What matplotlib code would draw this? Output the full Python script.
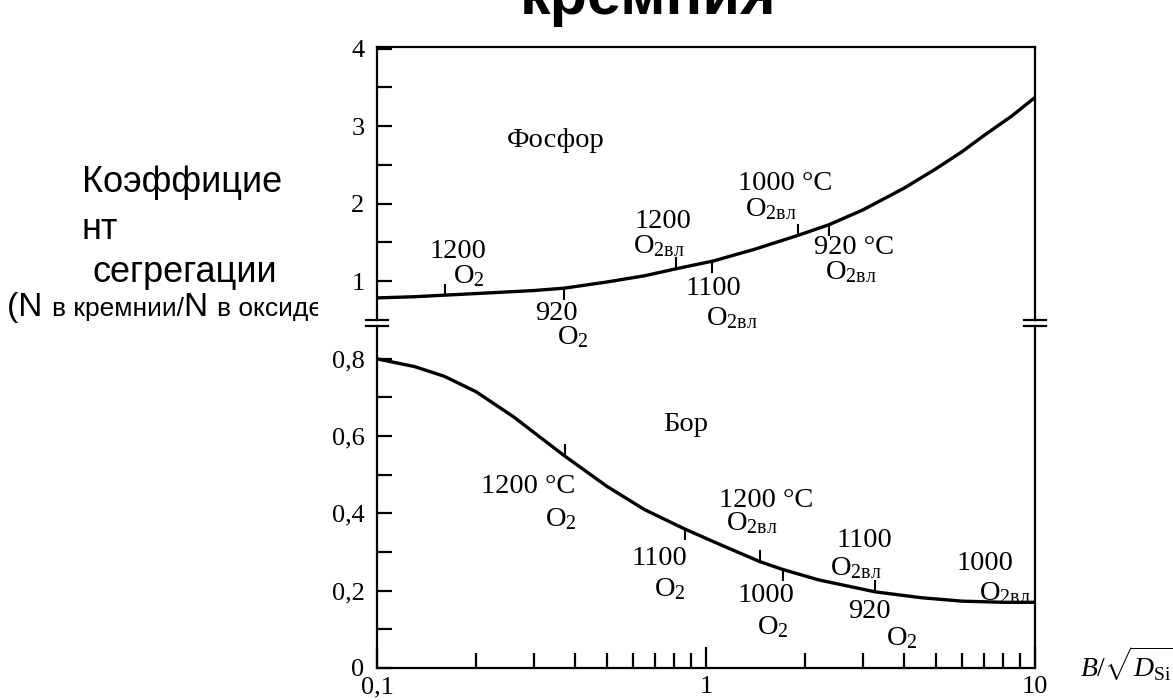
import numpy as np
import matplotlib
matplotlib.use('Agg')
import matplotlib.pyplot as plt
from matplotlib.ticker import LogLocator, NullFormatter, FixedLocator
from matplotlib.lines import Line2D
from matplotlib.transforms import Bbox

plt.rcParams['font.family'] = ['Liberation Serif', 'DejaVu Serif']
plt.rcParams['mathtext.fontset'] = 'custom'
plt.rcParams['mathtext.rm'] = 'Liberation Serif'
plt.rcParams['mathtext.it'] = 'Liberation Serif:italic'
plt.rcParams['mathtext.bf'] = 'Liberation Serif:bold'

# phosphorus curve (upper panel)
p_x = [0.1, 0.13, 0.16, 0.22, 0.3, 0.37, 0.5, 0.65, 0.81, 1.05, 1.4, 1.9, 2.37, 3.0, 4.0, 5.0, 6.0, 7.0, 8.5, 10]
p_y = [0.785, 0.80, 0.82, 0.85, 0.88, 0.91, 0.99, 1.07, 1.16, 1.26, 1.41, 1.59, 1.73, 1.92, 2.2, 2.45, 2.67, 2.88, 3.13, 3.37]
# boron curve (lower panel)
b_x = [0.1, 0.13, 0.16, 0.2, 0.26, 0.37, 0.5, 0.65, 0.86, 1.1, 1.46, 1.71, 2.2, 3.27, 4.5, 6.0, 8.0, 10]
b_y = [0.80, 0.78, 0.755, 0.715, 0.65, 0.55, 0.47, 0.41, 0.36, 0.32, 0.275, 0.255, 0.228, 0.197, 0.182, 0.173, 0.17, 0.17]

# small marks on the curves
pt_x = [0.161, 0.369, 0.809, 1.046, 1.9, 2.37]
pt_y = [0.82, 0.906, 1.163, 1.25, 1.59, 1.72]
pt_dir = [1, -1, 1, -1, 1, -1]
bt_x = [0.373, 0.863, 1.46, 1.71, 3.27]
bt_y = [0.55, 0.36, 0.275, 0.255, 0.197]
bt_dir = [1, -1, 1, -1, 1]

O2 = r'O$_2$'
O2vl = r'O$_{2\mathrm{вл}}$'

p_lab = ['Фосфор', '1200', O2, '920', O2, '1200', O2vl, '1100', O2vl, '1000 °C', O2vl, '920 °C', O2vl]
p_lab_x = [0.35, 0.176, 0.19, 0.352, 0.395, 0.738, 0.72, 1.05, 1.2, 1.74, 1.57, 2.82, 2.75]
p_lab_y = [2.82, 1.38, 1.07, 0.58, 0.28, 1.77, 1.45, 0.90, 0.52, 2.26, 1.93, 1.44, 1.12]

b_lab = ['Бор', '1200 °C', O2, '1100', O2, '1200 °C', O2vl, '1000', O2, '1100', O2vl, '920', O2, '1000', O2vl]
b_lab_x = [0.87, 0.288, 0.363, 0.724, 0.777, 1.52, 1.38, 1.52, 1.6, 3.04, 2.85, 3.13, 3.94, 7.05, 8.1]
b_lab_y = [0.63, 0.47, 0.386, 0.284, 0.203, 0.434, 0.374, 0.188, 0.107, 0.33, 0.258, 0.146, 0.076, 0.271, 0.193]

up_ticks = [1, 2, 3, 4]
up_ticklabels = ['1', '2', '3', '4']
lo_ticks = [0, 0.2, 0.4, 0.6, 0.8]
lo_ticklabels = ['0', '0,2', '0,4', '0,6', '0,8']
x_ticks = [0.1, 1, 10]
x_ticklabels = ['0,1', '1', '10']

W, H = 1173, 700
fig = plt.figure(figsize=(W / 100, H / 100), dpi=100)
left, right = 377 / W, 1035 / W
ax2 = fig.add_axes([left, 1 - 668 / H, right - left, (668 - 326) / H])
ax1 = fig.add_axes([left, 1 - 320 / H, right - left, (320 - 47) / H], sharex=ax2)
ax1.set_zorder(ax2.get_zorder() + 1)

lw_sp = 1.6
for ax in (ax1, ax2):
    ax.set_xscale('log')
    ax.set_xlim(0.1, 10)
    for s in ax.spines.values():
        s.set_linewidth(lw_sp)
    ax.tick_params(which='both', direction='in', labelsize=19, width=1.6, pad=9, length=11)

ax1.spines['bottom'].set_visible(False)
ax2.spines['top'].set_visible(False)

ax1.set_ylim(0.5, 4.02)
ax1.set_yticks(up_ticks, up_ticklabels)
ax1.yaxis.set_minor_locator(FixedLocator([1.5, 2.5, 3.5]))
ax1.tick_params(axis='x', which='both', bottom=False, top=False, labelbottom=False)
ax1.tick_params(axis='y', which='both', right=False)

ax2.set_ylim(0, 0.885)
ax2.set_yticks(lo_ticks, lo_ticklabels)
ax2.yaxis.set_minor_locator(FixedLocator([0.1, 0.3, 0.5, 0.7]))
ax2.tick_params(axis='y', which='both', right=False)
ax2.set_xticks(x_ticks, x_ticklabels)
ax2.xaxis.set_minor_locator(LogLocator(base=10, subs=np.arange(2, 10)))
ax2.xaxis.set_minor_formatter(NullFormatter())
ax2.tick_params(axis='x', which='major', length=15, pad=6)
ax2.tick_params(axis='x', which='minor', length=11)

ax1.plot(p_x, p_y, color='black', lw=2.4, solid_capstyle='butt')
ax2.plot(b_x, b_y, color='black', lw=2.4, solid_capstyle='butt')

# marks on curves
for x, y, d in zip(pt_x, pt_y, pt_dir):
    ax1.plot([x, x], [y, y + d * 0.13], color='black', lw=1.5)
for x, y, d in zip(bt_x, bt_y, bt_dir):
    ax2.plot([x, x], [y, y + d * 0.027], color='black', lw=1.5)

for t, x, y in zip(p_lab, p_lab_x, p_lab_y):
    ax1.text(x, y, t, fontsize=20.5, ha='center', va='center', clip_on=False)
for t, x, y in zip(b_lab, b_lab_x, b_lab_y):
    ax2.text(x, y, t, fontsize=20.5, ha='center', va='center', clip_on=False)

# axis break marks
for xf in (0.0, 1.0):
    for ax, yf in ((ax1, 0.0), (ax2, 1.0)):
        ax.add_line(Line2D([xf - 0.016, xf + 0.016], [yf, yf], transform=ax.transAxes,
                           color='black', lw=1.6, clip_on=False))

# x axis label (cut at the right edge like the source)
fig.text(1080 / W, 1 - 677 / H, r'$B/\sqrt{D_{\mathrm{Si}}}$', fontsize=20, ha='left', va='baseline')

# left label (sans)
sans = ['Liberation Sans', 'DejaVu Sans']
fig.text(82 / W, 1 - 183 / H, 'Коэффицие', fontsize=26, family=sans, ha='left', va='center')
fig.text(82 / W, 1 - 230 / H, 'нт', fontsize=26, family=sans, ha='left', va='center')
fig.text(92 / W, 1 - 273 / H, 'сегрегации', fontsize=26, family=sans, ha='left', va='center')

renderer = fig.canvas.get_renderer()
clip = Bbox.from_extents(0, 0, 318, H)
pieces = [('(N ', 24), ('в кремнии/', 19), ('N ', 24), ('в оксиде)', 19)]
xpos = 7
for txt, fs in pieces:
    tt = fig.text(xpos / W, 1 - 316 / H, txt, fontsize=fs, family=sans, ha='left', va='baseline')
    tt.set_clip_box(clip)
    tt.set_clip_on(True)
    xpos = tt.get_window_extent(renderer).x1

# title cut off at the top
fig.text(648 / W, 1 - 14 / H, 'кремния', fontsize=44, family=sans, weight='bold',
         ha='center', va='baseline')

fig.savefig('out.png', dpi=100)
